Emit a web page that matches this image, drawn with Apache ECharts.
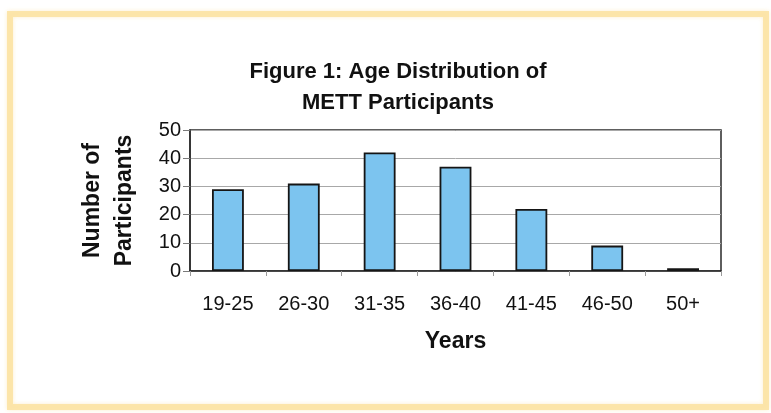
<!DOCTYPE html>
<html>
<head>
<meta charset="utf-8">
<title>Figure 1: Age Distribution of METT Participants</title>
<script src="https://cdn.jsdelivr.net/npm/echarts@6/dist/echarts.min.js"></script>
<style>
  html, body { margin: 0; padding: 0; background: #ffffff; }
  #chart { width: 771px; height: 413px; }
</style>
</head>
<body>
<div id="chart"></div>
<script>
// Age groups and participant counts
const ageGroups = ['19-25', '26-30', '31-35', '36-40', '41-45', '46-50', '50+'];
const participants = [29, 31, 42, 37, 22, 9, 1];
const yTicks = { min: 0, max: 50, step: 10 };

const FONT = '"Liberation Sans", Arial, Helvetica, sans-serif';

const chart = echarts.init(document.getElementById('chart'), null, { renderer: 'canvas' });

chart.setOption({
  backgroundColor: '#ffffff',
  animation: false,
  title: {
    text: 'Figure 1: Age Distribution of\nMETT Participants',
    left: 393,
    top: 51,
    textAlign: 'center',
    textStyle: {
      fontFamily: FONT,
      fontSize: 22,
      fontWeight: 'bold',
      color: '#111111',
      lineHeight: 31
    }
  },
  // pale yellow page frame
  graphic: [{
    type: 'rect',
    silent: true,
    z: -10,
    shape: { x: 10, y: 14, width: 756, height: 393 },
    style: {
      fill: 'transparent',
      stroke: 'rgba(252,226,160,0.85)',
      lineWidth: 6,
      shadowBlur: 4,
      shadowColor: 'rgba(250,220,140,0.5)'
    }
  }],
  grid: {
    left: 190,
    top: 130,
    right: 50,
    bottom: 142,
    show: true,
    borderColor: '#2a2a2a',
    borderWidth: 1.5,
    backgroundColor: 'transparent'
  },
  xAxis: {
    type: 'category',
    data: ageGroups,
    name: 'Years',
    nameLocation: 'middle',
    nameGap: 59,
    nameTextStyle: {
      fontFamily: FONT,
      fontSize: 23,
      fontWeight: 'bold',
      color: '#111111'
    },
    axisLine: { show: true, lineStyle: { color: '#2a2a2a', width: 1.5 } },
    axisTick: { show: true, length: 5, lineStyle: { color: '#9a9a9a' } },
    axisLabel: {
      fontFamily: FONT,
      fontSize: 20,
      color: '#111111',
      margin: 23
    }
  },
  yAxis: {
    type: 'value',
    min: yTicks.min,
    max: yTicks.max,
    interval: yTicks.step,
    name: 'Number of\nParticipants',
    nameLocation: 'middle',
    nameRotate: 90,
    nameGap: 49,
    nameTextStyle: {
      fontFamily: FONT,
      fontSize: 23,
      fontWeight: 'bold',
      color: '#111111',
      lineHeight: 32
    },
    axisLine: { show: true, lineStyle: { color: '#2a2a2a', width: 1.5 } },
    axisTick: { show: true, length: 7, lineStyle: { color: '#7a7a7a' } },
    axisLabel: {
      fontFamily: FONT,
      fontSize: 20,
      color: '#111111',
      margin: 9
    },
    splitLine: { show: true, lineStyle: { color: '#a8a8a8', width: 1 } }
  },
  series: [{
    type: 'bar',
    data: participants,
    barWidth: '42%',
    itemStyle: {
      color: '#7cc4ef',
      borderColor: '#151515',
      borderWidth: 1.8
    }
  }]
});
</script>
</body>
</html>
